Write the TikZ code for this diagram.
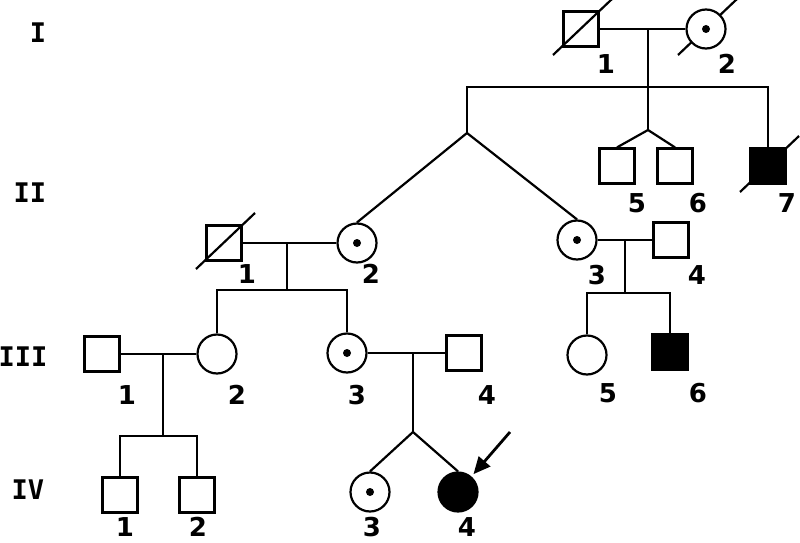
\documentclass[tikz,border=0pt]{standalone}
\usepackage{fontspec}
\setmainfont{DejaVu Sans}
\newfontfamily\genfont{DejaVu Sans Mono}
\usetikzlibrary{arrows.meta,positioning,backgrounds}

\newcommand\deadslash[1]{\draw[line width=2.2pt] ([shift={(-28,26)}]#1.center) -- ([shift={(31,-30)}]#1.center);}

\begin{document}
\begin{tikzpicture}[x=1pt, y=-1pt, line width=2.2pt,
  male/.style={draw, rectangle, minimum size=35pt, inner sep=0pt, fill=white},
  female/.style={draw, circle, minimum size=39pt, inner sep=0pt, fill=white},
  affected/.style={fill=black},
  carrier/.style={label={[circle, fill=black, inner sep=0pt, minimum size=8pt]center:{}}},
  num/.style={inner sep=0pt, font=\fontsize{26}{26}\selectfont\bfseries},
  gen/.style={inner sep=0pt, font=\fontsize{27}{27}\selectfont\genfont\bfseries},
  arr/.style={-{Triangle[length=17pt, width=15pt]}, line width=2.8pt, shorten >=3pt},
]
  \useasboundingbox (0,0) rectangle (800,543);

  \node[gen] (gI) at (38,33) {I};
  \node[gen] (gII) at (30,193) {II};
  \node[gen] (gIII) at (23,357) {III};
  \node[gen] (gIV) at (28,490) {IV};

  \node[male] (i1) at (581,29) {};
  \node[female, carrier] (i2) at (706,29) {};

  \node[male] (ii1) at (224,243) {};
  \node[female, carrier] (ii2) at (357,243) {};
  \node[female, carrier] (ii3) at (577,240) {};
  \node[male] (ii4) at (671,240) {};
  \node[male] (ii5) at (617,166) {};
  \node[male] (ii6) at (675,166) {};
  \node[male, affected] (ii7) at (768,166) {};

  \node[male] (iii1) at (102,354) {};
  \node[female] (iii2) at (217,354) {};
  \node[female, carrier] (iii3) at (347,353) {};
  \node[male] (iii4) at (464,353) {};
  \node[female] (iii5) at (587,355) {};
  \node[male, affected] (iii6) at (670,352) {};

  \node[male] (iv1) at (120,495) {};
  \node[male] (iv2) at (197,495) {};
  \node[female, carrier] (iv3) at (370,492) {};
  \node[female, affected] (iv4) at (458,492) {};

  \coordinate (m1) at (648,29);
  \coordinate (sib1) at (648,87);
  \coordinate (tw1) at (648,130);
  \coordinate (tw2) at (467,133);
  \coordinate (m2) at (287,243);
  \coordinate (sib2) at (287,290);
  \coordinate (m3) at (625,240);
  \coordinate (sib3) at (625,293);
  \coordinate (m4) at (163,354);
  \coordinate (sib4) at (163,436);
  \coordinate (m5) at (413,353);
  \coordinate (tw3) at (413,432);
  \coordinate (pointer) at (510,432);

  \draw (i1) -- (i2);
  \draw (m1) -- (tw1);
  \draw (tw2) |- (sib1) -| (ii7.north);
  \draw (ii5.north) -- (tw1) -- (ii6.north);
  \draw (ii2.north) -- (tw2) -- (ii3.north);

  \draw (ii1) -- (ii2);
  \draw (m2) -- (sib2);
  \draw (iii2.north) |- (sib2) -| (iii3.north);
  \draw (ii3) -- (ii4);
  \draw (m3) -- (sib3);
  \draw (iii5.north) |- (sib3) -| (iii6.north);

  \draw (iii1) -- (iii2);
  \draw (m4) -- (sib4);
  \draw (iv1.north) |- (sib4) -| (iv2.north);
  \draw (iii3) -- (iii4);
  \draw (m5) -- (tw3);
  \draw (iv3.north) -- (tw3) -- (iv4.north);

  \deadslash{i1}
  \deadslash{ii1}
  \deadslash{ii7}
  \begin{scope}[on background layer]
    \deadslash{i2}
  \end{scope}

  \draw[arr] (pointer) -- (iv4);

  \foreach \n/\x/\y/\t in {i1/606/64/1, i2/727/64/2,
      ii1/247/274/1, ii2/371/274/2, ii3/597/275/3, ii4/697/275/4,
      ii5/637/203/5, ii6/698/203/6, ii7/787/203/7,
      iii1/127/395/1, iii2/237/395/2, iii3/357/395/3, iii4/487/395/4,
      iii5/608/393/5, iii6/698/393/6,
      iv1/125/527/1, iv2/198/527/2, iv3/372/527/3, iv4/467/527/4}
    \node[num] (lab-\n) at (\x,\y) {\t};
\end{tikzpicture}
\end{document}
